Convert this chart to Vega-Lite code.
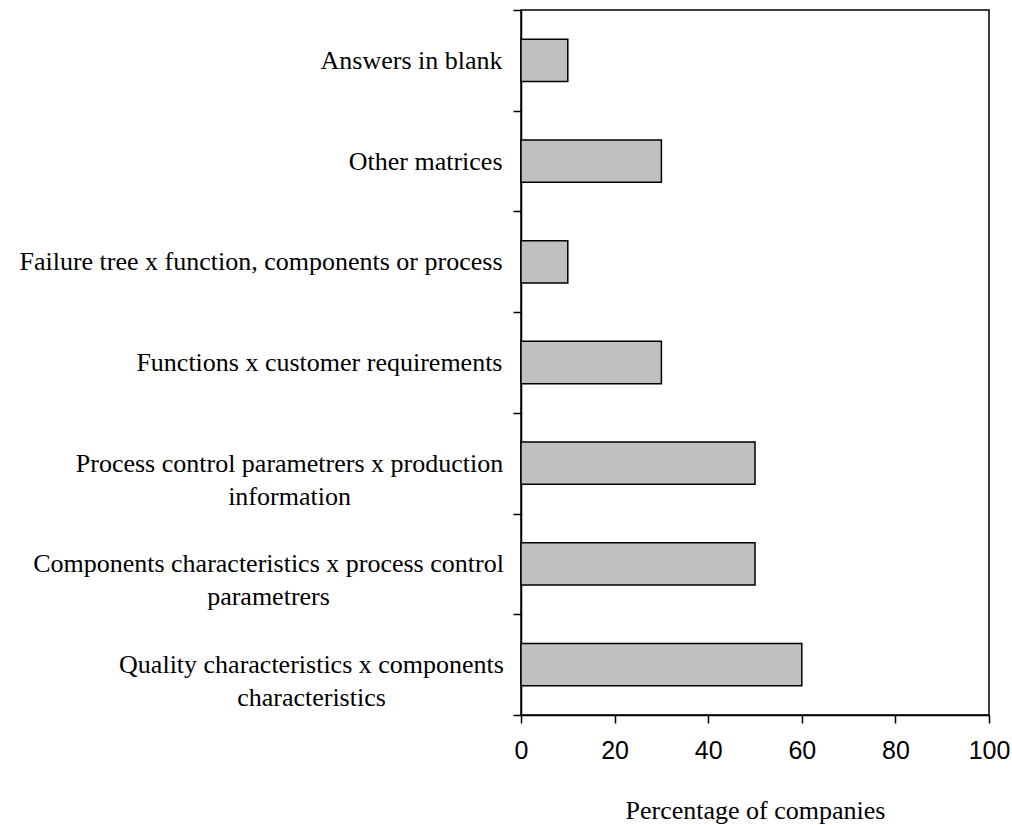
{
  "$schema": "https://vega.github.io/schema/vega-lite/v6.json",
  "autosize": {"type": "none"},
  "width": 468,
  "height": 705,
  "padding": {"left": 521, "top": 10, "right": 23, "bottom": 110},
  "background": "white",
  "config": {
    "view": {"stroke": "black", "strokeWidth": 1.5},
    "axis": {"domainColor": "black", "tickColor": "black", "labelColor": "black", "titleColor": "black", "grid": false, "domainWidth": 1.5, "tickWidth": 1.5}
  },
  "data": {
    "values": [
      {"matrix": "Answers in blank", "pct": 10},
      {"matrix": "Other matrices", "pct": 30},
      {"matrix": "Failure tree x function, components or process", "pct": 10},
      {"matrix": "Functions x customer requirements", "pct": 30},
      {"matrix": "Process control parametrers x production information", "pct": 50},
      {"matrix": "Components characteristics x process control parametrers", "pct": 50},
      {"matrix": "Quality characteristics x components characteristics", "pct": 60}
    ]
  },
  "mark": {"type": "bar", "fill": "#c0c0c0", "stroke": "black", "strokeWidth": 1.5, "height": {"band": 0.42}},
  "encoding": {
    "y": {
      "field": "matrix",
      "type": "nominal",
      "sort": null,
      "scale": {"paddingInner": 0, "paddingOuter": 0},
      "axis": {
        "title": null,
        "tickBand": "extent",
        "tickSize": 8,
        "labelFont": "Liberation Serif",
        "labelFontSize": 26,
        "labelLimit": 0,
        "labelLineHeight": 33,
        "labelAlign": {
          "condition": {"test": "datum.value == 'Process control parametrers x production information' || datum.value == 'Components characteristics x process control parametrers' || datum.value == 'Quality characteristics x components characteristics'", "value": "center"},
          "value": "right"
        },
        "labelPadding": {
          "condition": [
            {"test": "datum.value == 'Process control parametrers x production information'", "value": 224},
            {"test": "datum.value == 'Components characteristics x process control parametrers'", "value": 245},
            {"test": "datum.value == 'Quality characteristics x components characteristics'", "value": 202}
          ],
          "value": 11
        },
        "labelExpr": "datum.value == 'Process control parametrers x production information' ? ['Process control parametrers x production', 'information'] : datum.value == 'Components characteristics x process control parametrers' ? ['Components characteristics x process control', 'parametrers'] : datum.value == 'Quality characteristics x components characteristics' ? ['Quality characteristics x components', 'characteristics'] : datum.value"
      }
    },
    "x": {
      "field": "pct",
      "type": "quantitative",
      "scale": {"domain": [0, 100], "nice": false},
      "axis": {
        "title": "Percentage of companies",
        "values": [0, 20, 40, 60, 80, 100],
        "tickSize": 8,
        "labelPadding": 15,
        "labelFont": "Liberation Sans",
        "labelFontSize": 25,
        "labelFlush": false,
        "titleFont": "Liberation Serif",
        "titleFontSize": 26,
        "titleFontWeight": "normal",
        "titlePadding": 34
      }
    }
  }
}
